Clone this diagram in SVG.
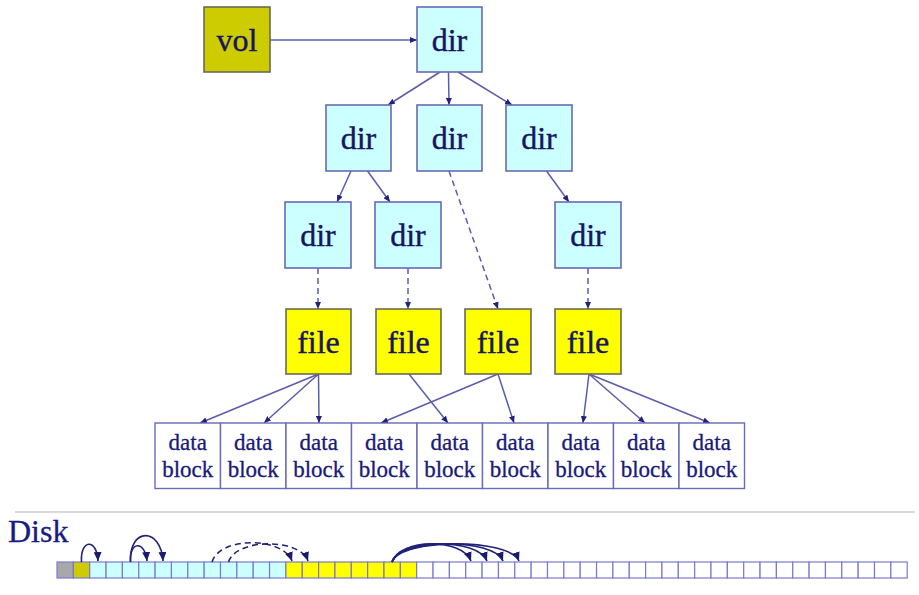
<svg xmlns="http://www.w3.org/2000/svg" width="919" height="595" viewBox="0 0 919 595">
<defs>
<style>
.dir{fill:#ccffff;stroke:#6a6ab8;stroke-width:1.6}
.file{fill:#ffff00;stroke:#6b6b55;stroke-width:1.6}
.vol{fill:#cccc00;stroke:#6b6b55;stroke-width:1.6}
.blk{fill:#ffffff;stroke:#6a6ab8;stroke-width:1.4}
.t{font-family:"Liberation Serif","Times New Roman",serif;font-size:32px;fill:#161660;stroke:#161660;stroke-width:0.4;text-anchor:middle}
.bt{font-family:"Liberation Serif","Times New Roman",serif;font-size:23px;fill:#1a1a78;stroke:#1a1a78;stroke-width:0.3;text-anchor:middle}
.c{fill:none;stroke:#5c5cae;stroke-width:1.5;marker-end:url(#ah)}
.d{stroke-dasharray:6 4}
.cell{stroke:#7a7acc;stroke-width:1.2}
.arc{fill:none;stroke:#22227a;stroke-width:1.6;marker-end:url(#ah2)}
</style>
<marker id="ah" markerUnits="userSpaceOnUse" markerWidth="7" markerHeight="6" refX="7" refY="3" orient="auto">
<path d="M0,0 L7,3 L0,6 z" fill="#22227a"/>
</marker>
<marker id="ah2" markerUnits="userSpaceOnUse" markerWidth="9" markerHeight="8" refX="9" refY="4" orient="auto">
<path d="M0,0 L9,4 L0,8 z" fill="#1a1a70"/>
</marker>
</defs>
<rect width="919" height="595" fill="#ffffff"/>

<g id="connectors">
<path class="c" d="M270 40 L417 40"/>
<path class="c" d="M440 72 L388 105"/>
<path class="c" d="M448.5 72 L449 105"/>
<path class="c" d="M458 72 L512 105"/>
<path class="c" d="M351 171 L337 202"/>
<path class="c" d="M367.5 171 L390 202"/>
<path class="c d" d="M449 171 L498 309"/>
<path class="c" d="M546.5 171 L569 202"/>
<path class="c d" d="M318 268 L318 309"/>
<path class="c d" d="M408 268 L408 309"/>
<path class="c d" d="M588 268 L588 309"/>
<path class="c" d="M318.5 374 L200 423"/>
<path class="c" d="M318.5 374 L264 423"/>
<path class="c" d="M318.5 374 L319 423"/>
<path class="c" d="M409 374 L448 423"/>
<path class="c" d="M498 374 L381 423"/>
<path class="c" d="M498 374 L514 423"/>
<path class="c" d="M589 374 L583 423"/>
<path class="c" d="M589 374 L645 423"/>
<path class="c" d="M589 374 L710 423"/>
</g>

<g id="vol"><rect class="vol" x="204" y="7" width="66" height="65"/><text class="t" x="237" y="51">vol</text></g>
<g id="dir0"><rect class="dir" x="417" y="7" width="65" height="65"/><text class="t" x="449.5" y="51">dir</text></g>
<g id="dir1"><rect class="dir" x="326" y="105" width="65" height="66"/><text class="t" x="358.5" y="149">dir</text></g>
<g id="dir2"><rect class="dir" x="417" y="105" width="65" height="66"/><text class="t" x="449.5" y="149">dir</text></g>
<g id="dir3"><rect class="dir" x="506" y="105" width="66" height="66"/><text class="t" x="539" y="149">dir</text></g>
<g id="dir4"><rect class="dir" x="285" y="202" width="66" height="66"/><text class="t" x="318" y="246">dir</text></g>
<g id="dir5"><rect class="dir" x="375" y="202" width="66" height="66"/><text class="t" x="408" y="246">dir</text></g>
<g id="dir6"><rect class="dir" x="555" y="202" width="66" height="66"/><text class="t" x="588" y="246">dir</text></g>
<g id="file1"><rect class="file" x="286" y="309" width="65" height="65"/><text class="t" x="318.5" y="353">file</text></g>
<g id="file2"><rect class="file" x="376" y="309" width="65" height="65"/><text class="t" x="408.5" y="353">file</text></g>
<g id="file3"><rect class="file" x="465" y="309" width="66" height="65"/><text class="t" x="498" y="353">file</text></g>
<g id="file4"><rect class="file" x="555" y="309" width="66" height="65"/><text class="t" x="588" y="353">file</text></g>

<g id="block1"><rect class="blk" x="155" y="423" width="65.5" height="65.5"/><text class="bt" x="187.75" y="449.5">data</text><text class="bt" x="187.75" y="477">block</text></g>
<g id="block2"><rect class="blk" x="220.5" y="423" width="65.5" height="65.5"/><text class="bt" x="253.25" y="449.5">data</text><text class="bt" x="253.25" y="477">block</text></g>
<g id="block3"><rect class="blk" x="286" y="423" width="65.5" height="65.5"/><text class="bt" x="318.75" y="449.5">data</text><text class="bt" x="318.75" y="477">block</text></g>
<g id="block4"><rect class="blk" x="351.5" y="423" width="65.5" height="65.5"/><text class="bt" x="384.25" y="449.5">data</text><text class="bt" x="384.25" y="477">block</text></g>
<g id="block5"><rect class="blk" x="417" y="423" width="65.5" height="65.5"/><text class="bt" x="449.75" y="449.5">data</text><text class="bt" x="449.75" y="477">block</text></g>
<g id="block6"><rect class="blk" x="482.5" y="423" width="65.5" height="65.5"/><text class="bt" x="515.25" y="449.5">data</text><text class="bt" x="515.25" y="477">block</text></g>
<g id="block7"><rect class="blk" x="548" y="423" width="65.5" height="65.5"/><text class="bt" x="580.75" y="449.5">data</text><text class="bt" x="580.75" y="477">block</text></g>
<g id="block8"><rect class="blk" x="613.5" y="423" width="65.5" height="65.5"/><text class="bt" x="646.25" y="449.5">data</text><text class="bt" x="646.25" y="477">block</text></g>
<g id="block9"><rect class="blk" x="679" y="423" width="65.5" height="65.5"/><text class="bt" x="711.75" y="449.5">data</text><text class="bt" x="711.75" y="477">block</text></g>

<line x1="15" y1="512" x2="915" y2="512" stroke="#d8d8e6" stroke-width="2"/>
<text x="8" y="542" style="font-family:'Liberation Serif','Times New Roman',serif;font-size:32px;fill:#1a1a80;stroke:#1a1a80;stroke-width:0.3">Disk</text>

<g id="disk">
<rect class="cell" x="57" y="562" width="16.35" height="16" fill="#a8a8a8"/>
<rect class="cell" x="73.35" y="562" width="16.35" height="16" fill="#cccc00"/>
<rect class="cell" x="89.7" y="562" width="16.35" height="16" fill="#ccffff"/>
<rect class="cell" x="106.05" y="562" width="16.35" height="16" fill="#ccffff"/>
<rect class="cell" x="122.4" y="562" width="16.35" height="16" fill="#ccffff"/>
<rect class="cell" x="138.75" y="562" width="16.35" height="16" fill="#ccffff"/>
<rect class="cell" x="155.1" y="562" width="16.35" height="16" fill="#ccffff"/>
<rect class="cell" x="171.45" y="562" width="16.35" height="16" fill="#ccffff"/>
<rect class="cell" x="187.8" y="562" width="16.35" height="16" fill="#ccffff"/>
<rect class="cell" x="204.15" y="562" width="16.35" height="16" fill="#ccffff"/>
<rect class="cell" x="220.5" y="562" width="16.35" height="16" fill="#ccffff"/>
<rect class="cell" x="236.85" y="562" width="16.35" height="16" fill="#ccffff"/>
<rect class="cell" x="253.2" y="562" width="16.35" height="16" fill="#ccffff"/>
<rect class="cell" x="269.55" y="562" width="16.35" height="16" fill="#ccffff"/>
<rect class="cell" x="285.9" y="562" width="16.35" height="16" fill="#ffff00"/>
<rect class="cell" x="302.25" y="562" width="16.35" height="16" fill="#ffff00"/>
<rect class="cell" x="318.6" y="562" width="16.35" height="16" fill="#ffff00"/>
<rect class="cell" x="334.95" y="562" width="16.35" height="16" fill="#ffff00"/>
<rect class="cell" x="351.3" y="562" width="16.35" height="16" fill="#ffff00"/>
<rect class="cell" x="367.65" y="562" width="16.35" height="16" fill="#ffff00"/>
<rect class="cell" x="384" y="562" width="16.35" height="16" fill="#ffff00"/>
<rect class="cell" x="400.35" y="562" width="16.35" height="16" fill="#ffff00"/>
<rect class="cell" x="416.7" y="562" width="16.35" height="16" fill="#ffffff"/>
<rect class="cell" x="433.05" y="562" width="16.35" height="16" fill="#ffffff"/>
<rect class="cell" x="449.4" y="562" width="16.35" height="16" fill="#ffffff"/>
<rect class="cell" x="465.75" y="562" width="16.35" height="16" fill="#ffffff"/>
<rect class="cell" x="482.1" y="562" width="16.35" height="16" fill="#ffffff"/>
<rect class="cell" x="498.45" y="562" width="16.35" height="16" fill="#ffffff"/>
<rect class="cell" x="514.8" y="562" width="16.35" height="16" fill="#ffffff"/>
<rect class="cell" x="531.15" y="562" width="16.35" height="16" fill="#ffffff"/>
<rect class="cell" x="547.5" y="562" width="16.35" height="16" fill="#ffffff"/>
<rect class="cell" x="563.85" y="562" width="16.35" height="16" fill="#ffffff"/>
<rect class="cell" x="580.2" y="562" width="16.35" height="16" fill="#ffffff"/>
<rect class="cell" x="596.55" y="562" width="16.35" height="16" fill="#ffffff"/>
<rect class="cell" x="612.9" y="562" width="16.35" height="16" fill="#ffffff"/>
<rect class="cell" x="629.25" y="562" width="16.35" height="16" fill="#ffffff"/>
<rect class="cell" x="645.6" y="562" width="16.35" height="16" fill="#ffffff"/>
<rect class="cell" x="661.95" y="562" width="16.35" height="16" fill="#ffffff"/>
<rect class="cell" x="678.3" y="562" width="16.35" height="16" fill="#ffffff"/>
<rect class="cell" x="694.65" y="562" width="16.35" height="16" fill="#ffffff"/>
<rect class="cell" x="711" y="562" width="16.35" height="16" fill="#ffffff"/>
<rect class="cell" x="727.35" y="562" width="16.35" height="16" fill="#ffffff"/>
<rect class="cell" x="743.7" y="562" width="16.35" height="16" fill="#ffffff"/>
<rect class="cell" x="760.05" y="562" width="16.35" height="16" fill="#ffffff"/>
<rect class="cell" x="776.4" y="562" width="16.35" height="16" fill="#ffffff"/>
<rect class="cell" x="792.75" y="562" width="16.35" height="16" fill="#ffffff"/>
<rect class="cell" x="809.1" y="562" width="16.35" height="16" fill="#ffffff"/>
<rect class="cell" x="825.45" y="562" width="16.35" height="16" fill="#ffffff"/>
<rect class="cell" x="841.8" y="562" width="16.35" height="16" fill="#ffffff"/>
<rect class="cell" x="858.15" y="562" width="16.35" height="16" fill="#ffffff"/>
<rect class="cell" x="874.5" y="562" width="16.35" height="16" fill="#ffffff"/>
<rect class="cell" x="890.85" y="562" width="16.35" height="16" fill="#ffffff"/>
</g>

<g id="disk-links">
<path class="arc" d="M81.5 562 C80 539 97 538 98 561"/>
<path class="arc" d="M130.5 562 C129 541 145 540 147 561"/>
<path class="arc" d="M130.5 562 C129 527 161 527 163 561"/>
<path class="arc d" d="M212 562 C220 536 283 537 292 561"/>
<path class="arc d" d="M228.5 562 C236 538 300 538 308 561"/>
<path class="arc" d="M392 562 C400 538 462 538 471 561"/>
<path class="arc" d="M392 562 C400 538 478 538 487 561"/>
<path class="arc" d="M392 562 C400 538 494 538 503 561"/>
<path class="arc" d="M392 562 C400 538 510 538 519 561"/>
</g>
</svg>
